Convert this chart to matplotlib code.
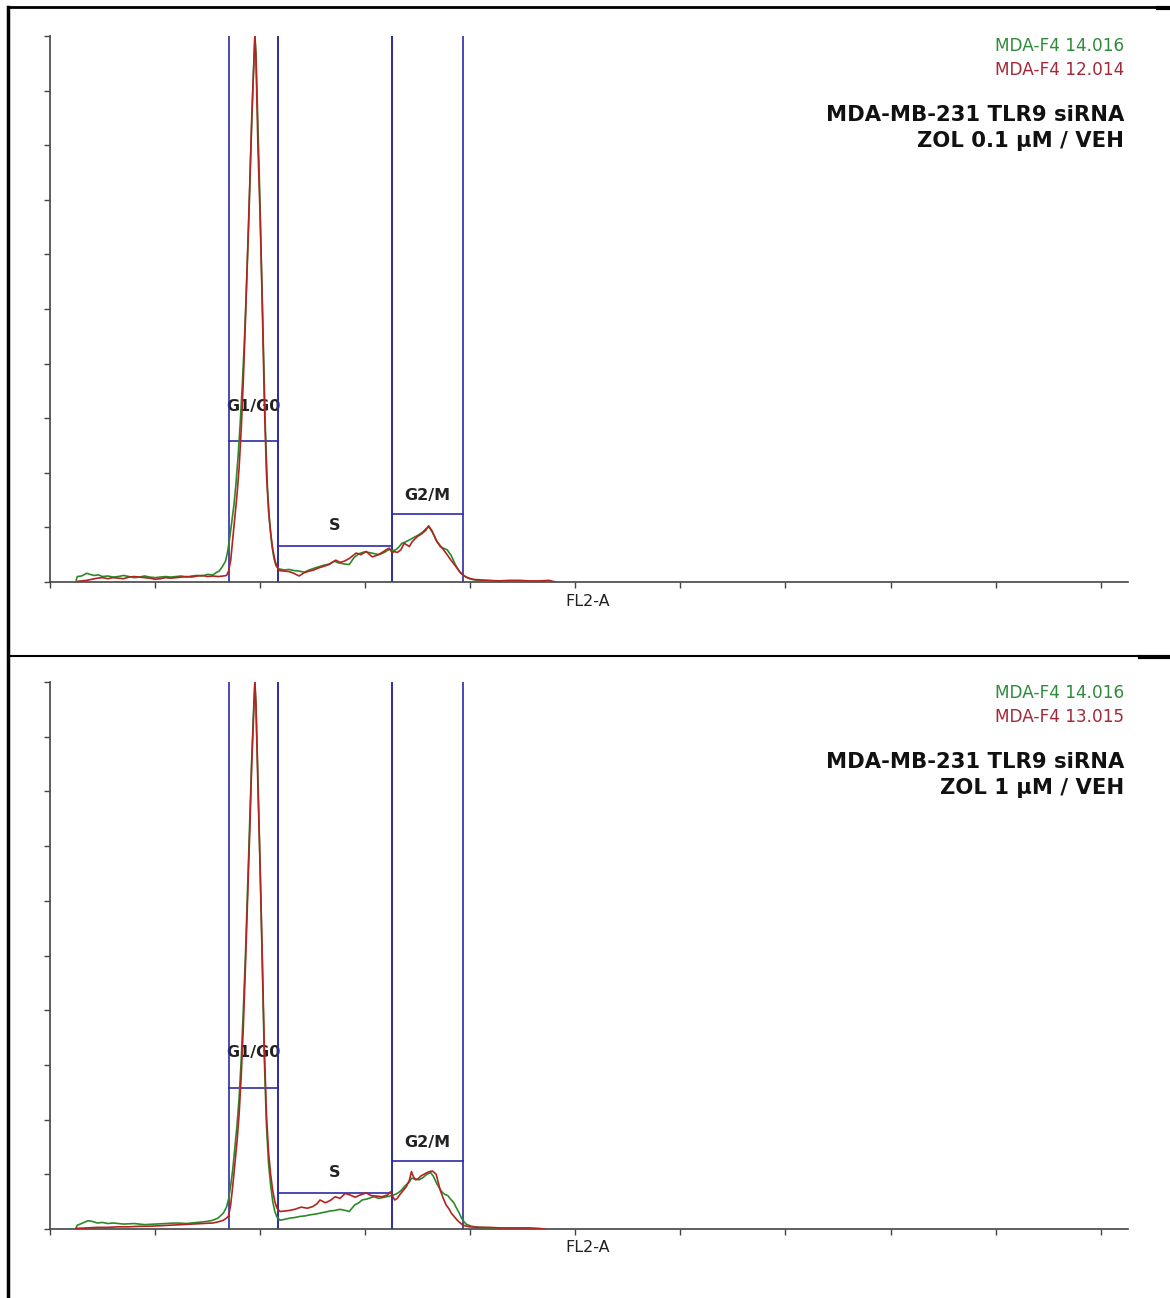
import matplotlib
matplotlib.use("Agg")
import matplotlib.pyplot as plt
from matplotlib.lines import Line2D

W, H = 1170, 1298

# ---- data: FL2-A channel -> % of max count ----
# panel 1 (ZOL 0.1 uM / VEH)
p1_green_ch = [25, 26, 30, 35, 38, 42, 46, 50, 55, 60, 65, 70, 75, 80, 85, 90, 95, 100, 105, 110,
               115, 120, 125, 130, 135, 140, 145, 150, 155, 158, 161, 164, 167, 169, 171, 173, 175,
               177, 179, 181, 183, 185, 187, 189, 191, 193, 195, 196, 197, 199, 201, 203, 205, 207,
               209, 211, 213, 215, 218, 223, 227.6, 232, 237, 242, 246.7, 251, 256, 261, 265.7,
               270.5, 275, 280, 284.8, 289.5, 294.3, 299, 303.8, 308.6, 313.3, 318, 323, 325.7,
               329, 332, 335, 338, 342, 346.7, 351.4, 355, 358, 360.5, 363, 365.7, 368.6, 371.4,
               374.3, 378, 382, 385.7, 389.5, 393.3, 399, 406.7, 418, 427.6, 437, 446.7]
p1_green = [0.4, 1.0, 1.1, 1.6, 1.4, 1.2, 1.3, 1.0, 1.1, 0.9, 1.0, 1.2, 1.0, 0.8, 0.9, 1.1, 0.9, 0.8,
            0.9, 1.0, 0.9, 1.0, 1.1, 0.9, 1.1, 1.2, 1.1, 1.4, 1.3, 1.7, 2.0, 2.8, 3.8, 5.5, 8, 11, 14,
            18, 23, 29, 36, 44, 54, 65, 78, 90, 100, 97, 90, 76, 60, 44, 28, 17, 11, 7, 4.5, 3.0,
            2.4, 2.2, 2.3, 2.1, 2.0, 1.8, 2.2, 2.5, 2.8, 3.1, 3.3, 3.8, 3.5, 3.3, 3.2, 4.5, 5.2,
            5.5, 5.4, 5.2, 5.0, 5.4, 6.0, 5.7, 5.9, 6.4, 7.1, 7.3, 7.7, 8.2, 8.7, 9.2, 9.8, 10.1,
            9.4, 8.5, 7.3, 6.5, 6.2, 5.9, 4.8, 3.2, 2.0, 1.2, 0.6, 0.3, 0.2, 0.2, 0.1, 0.1]

p1_red_ch = [25, 30, 35, 40, 45, 50, 55, 60, 65, 70, 75, 80, 85, 90, 95, 100, 105, 110, 115, 120,
             125, 130, 135, 140, 145, 150, 155, 160, 165, 168, 170, 172, 174, 176, 178, 180, 182,
             184, 186, 188, 190, 192, 194, 195, 196, 198, 200, 202, 204, 206, 208, 210, 212, 214,
             216, 218, 223, 227.6, 232, 237, 242, 246.7, 251, 256, 261, 265.7, 269.5, 272, 276,
             280, 284.8, 291.4, 296, 301, 306.7, 311.4, 316, 320, 323, 325.7, 327.6, 330.5, 334,
             337, 342, 344.8, 349.5, 354.3, 357.8, 360.3, 363.8, 367.3, 372, 376.9, 381.6, 386.4,
             391, 396, 402, 408.6, 418, 427.6, 437, 446.7, 456, 465.7, 475, 481]
p1_red = [0.1, 0.2, 0.3, 0.5, 0.7, 0.8, 0.6, 0.8, 0.7, 0.6, 0.9, 1.0, 0.9, 0.8, 0.7, 0.5, 0.6, 0.8,
          0.7, 0.8, 0.9, 1.0, 0.9, 1.1, 1.2, 1.0, 1.1, 1.0, 1.1, 1.2, 2.0, 4, 8, 12, 16, 21, 28, 37,
          48, 60, 72, 85, 95, 100, 96, 79, 67, 51, 33, 20, 13, 9, 6, 4, 2.8, 2.1, 2.0, 1.9, 1.6,
          1.1, 1.7, 2.0, 2.2, 2.6, 2.9, 3.2, 3.7, 4.0, 3.6, 3.8, 4.3, 5.3, 5.0, 5.6, 4.6, 4.9, 5.4,
          5.9, 6.2, 5.3, 5.6, 5.4, 5.9, 7.1, 6.5, 7.4, 8.3, 8.9, 9.5, 10.3, 9.3, 7.7, 6.5, 5.3,
          4.0, 2.8, 1.6, 0.9, 0.5, 0.4, 0.3, 0.2, 0.3, 0.3, 0.2, 0.2, 0.3, 0.0]

# panel 2 (ZOL 1 uM / VEH)
p2_green_ch = [25, 26, 30, 36, 40, 45, 50, 55, 60, 70, 80, 90, 100, 110, 120, 130, 140, 150, 155,
               160, 165, 168, 170, 172, 174, 176, 178, 180, 182, 184, 186, 188, 190, 192, 194, 195,
               196, 198, 200, 202, 204, 206, 208, 210, 212, 214, 216, 219, 224, 228.6, 233, 238,
               243, 247.6, 252, 257, 262, 266.7, 271.4, 276, 281, 284.8, 290, 294, 297, 302, 308,
               313, 318, 323, 326.7, 330.5, 334, 338, 342, 344.3, 347.6, 351.4, 355, 358.7, 362.4,
               365, 367.6, 370.5, 373.3, 376, 378.7, 381, 384, 386.7, 389.5, 391.4, 393.3, 396,
               401, 408.6, 418, 427.6]
p2_green = [0.3, 0.7, 1.0, 1.5, 1.4, 1.1, 1.2, 1.0, 1.1, 0.9, 1.0, 0.8, 0.9, 1.0, 1.1, 1.0, 1.2,
            1.4, 1.6, 2.0, 2.9, 4.0, 5.5, 8, 11, 15, 19, 24, 31, 40, 50, 62, 74, 86, 96, 100, 96,
            82, 66, 49, 31, 19, 12, 8, 5, 3.2, 2.2, 1.6, 1.8, 2.0, 2.1, 2.3, 2.4, 2.6, 2.7, 2.9,
            3.1, 3.3, 3.4, 3.6, 3.4, 3.2, 4.4, 4.8, 5.3, 5.5, 5.9, 5.6, 5.8, 6.0, 6.2, 6.5, 7.0,
            7.9, 8.6, 9.3, 9.1, 9.0, 9.4, 10.0, 10.3, 9.6, 8.5, 7.5, 6.7, 6.3, 6.1, 5.5, 4.9, 3.9,
            2.9, 2.1, 1.5, 0.9, 0.5, 0.3, 0.2, 0.1]

p2_red_ch = [25, 35, 45, 55, 65, 75, 85, 95, 105, 115, 125, 135, 145, 155, 160, 165, 168, 170,
             172, 174, 176, 178, 180, 182, 184, 186, 188, 190, 192, 194, 195, 196, 198, 200, 202,
             204, 206, 208, 210, 212, 214, 216, 219, 224, 228, 233, 239, 245, 250, 254, 257, 262,
             266.7, 271.4, 276, 281, 285.7, 290.5, 295, 301, 305.7, 311.4, 316, 321, 324, 328,
             330.5, 333, 336, 339, 342, 344, 346, 348, 350.5, 353, 356, 358.7, 361.4, 364, 367.6,
             369.5, 371.4, 374.3, 377, 380, 382, 385, 387.6, 390.5, 393, 399, 408.6, 418, 427.6,
             437, 446.7, 456, 465.7, 471]
p2_red = [0.1, 0.2, 0.3, 0.3, 0.4, 0.4, 0.5, 0.5, 0.6, 0.7, 0.8, 0.9, 1.0, 1.1, 1.3, 1.6, 2.0,
          2.4, 4.5, 8, 12, 16, 21, 28, 37, 48, 60, 72, 85, 95, 100, 96, 80, 66, 50, 33, 21, 14,
          10, 7, 5, 3.8, 3.2, 3.3, 3.4, 3.6, 4.0, 3.8, 4.1, 4.6, 5.3, 4.8, 5.2, 5.9, 5.6, 6.5,
          6.2, 5.8, 6.2, 6.6, 6.1, 6.0, 5.9, 6.2, 6.8, 5.3, 5.6, 6.3, 7.0, 7.7, 8.9, 10.5, 9.5,
          9.0, 9.2, 9.7, 10.0, 10.3, 10.5, 10.6, 10.0, 8.5, 7.1, 5.6, 4.4, 3.6, 2.9, 2.2, 1.6,
          1.1, 0.7, 0.4, 0.3, 0.3, 0.2, 0.2, 0.2, 0.2, 0.1, 0.0]

# gates: (name, left, right, bar level)
gate_names = ["G1/G0", "S", "G2/M"]
gate_left = [170, 217, 325.5]
gate_right = [217, 325.5, 393]
gate_level = [25.8, 6.6, 12.5]
gate_label_y = [32.2, 10.4, 15.8]

legends = [("MDA-F4 14.016", "MDA-F4 12.014"), ("MDA-F4 14.016", "MDA-F4 13.015")]
titles = [("MDA-MB-231 TLR9 siRNA", "ZOL 0.1 µM / VEH"), ("MDA-MB-231 TLR9 siRNA", "ZOL 1 µM / VEH")]

GREEN = "#2a8a2a"
RED = "#b52222"
BLUE = "#2b2ba5"

fig = plt.figure(figsize=(W / 100, H / 100), dpi=100)


def px(x, y):
    return x / W, 1 - y / H


panels = [
    dict(top=36, bottom=582, green=(p1_green_ch, p1_green), red=(p1_red_ch, p1_red), off=0),
    dict(top=682, bottom=1229, green=(p2_green_ch, p2_green), red=(p2_red_ch, p2_red), off=647),
]

for i, p in enumerate(panels):
    ax = fig.add_axes([50 / W, 1 - p["bottom"] / H, 1078 / W, (p["bottom"] - p["top"]) / H])
    ax.set_xlim(0, 1026)
    ax.set_ylim(0, 100)
    for s in ["top", "right"]:
        ax.spines[s].set_visible(False)
    for s in ["left", "bottom"]:
        ax.spines[s].set_color("#444444")
        ax.spines[s].set_linewidth(1.2)
    ax.set_xticks(range(0, 1001, 100))
    ax.set_yticks(range(0, 101, 10))
    ax.tick_params(direction="out", length=4, width=1, colors="#444444",
                   labelbottom=False, labelleft=False)

    # gates
    for name, l, r, lev, ly in zip(gate_names, gate_left, gate_right, gate_level, gate_label_y):
        ax.axvline(l, 0, 1, color=BLUE, lw=1.2, zorder=2)
        ax.axvline(r, 0, 1, color=BLUE, lw=1.2, zorder=2)
        ax.plot([l, r], [lev, lev], color=BLUE, lw=1.2, zorder=2)
        ax.text((l + r) / 2, ly, name, ha="center", va="center", fontsize=11.5,
                fontweight="bold", color="#222222", zorder=1)

    ax.plot(*p["green"], color=GREEN, lw=1.2, zorder=3)
    ax.plot(*p["red"], color=RED, lw=1.2, zorder=4)

    off = p["off"]
    fig.text(*px(588, 601 + off), "FL2-A", ha="center", va="center", fontsize=11.5, color="#222222")
    fig.text(*px(1124, 46 + off), legends[i][0], ha="right", va="center", fontsize=12.2, color="#2e8b3a")
    fig.text(*px(1124, 70 + off), legends[i][1], ha="right", va="center", fontsize=12.2, color="#a3283a")
    fig.text(*px(1124, 115 + off), titles[i][0], ha="right", va="center", fontsize=15.2,
             fontweight="bold", color="#111111")
    fig.text(*px(1124, 141 + off), titles[i][1], ha="right", va="center", fontsize=15.2,
             fontweight="bold", color="#111111")

# frame lines around the panels
frame = [
    ([8, 1158], [7, 7], 2.0),
    ([1158, 1170], [8, 8], 3.0),
    ([8, 8], [7, 1298], 2.5),
    ([8, 1140], [656, 656], 1.5),
    ([1140, 1170], [657, 657], 3.0),
]
for xs, ys, lw in frame:
    fig.add_artist(Line2D([x / W for x in xs], [1 - y / H for y in ys], color="black", lw=lw))

fig.savefig("out.png", dpi=100, facecolor="white")
